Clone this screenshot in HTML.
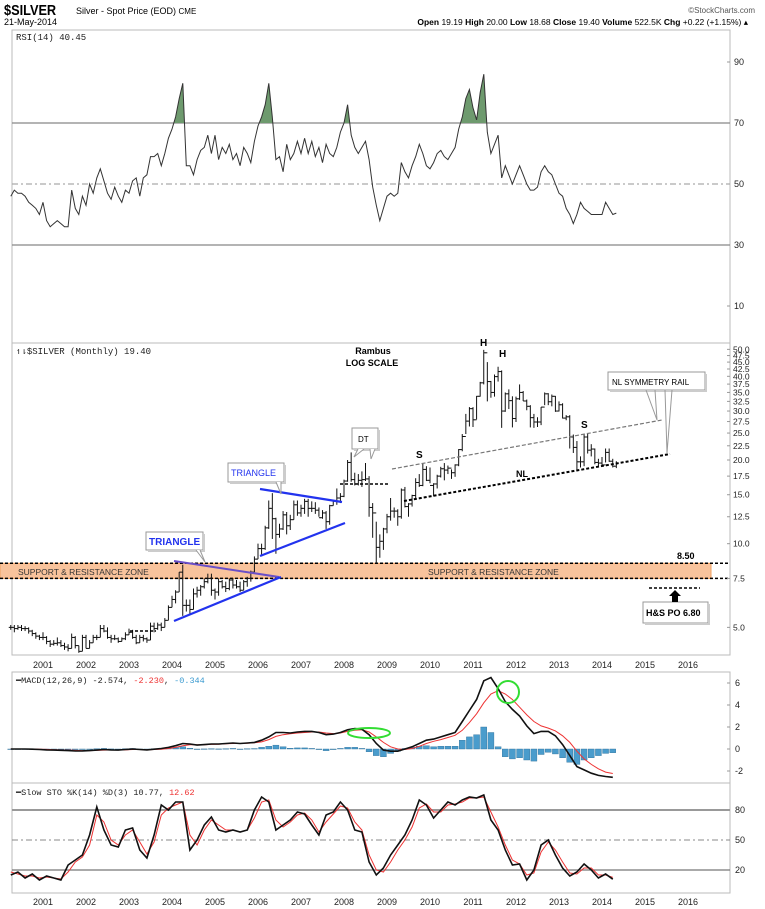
<!DOCTYPE html>
<html><head><meta charset="utf-8">
<style>
html,body{margin:0;padding:0;background:#fff;}
svg{display:block;font-family:"Liberation Sans",sans-serif;}
</style></head>
<body>
<svg id="c" width="765" height="909" viewBox="0 0 765 909" xmlns="http://www.w3.org/2000/svg">
<text x="4" y="15" font-size="15" font-weight="bold" transform="scale(0.85,1)" style="transform-origin:4px 15px">$SILVER</text>
<text x="76" y="14" font-size="9">Silver - Spot Price (EOD) <tspan font-size="8">CME</tspan></text>
<text x="755" y="13" font-size="8" fill="#555" text-anchor="end">©StockCharts.com</text>
<text x="4" y="25" font-size="9">21-May-2014</text>
<text x="748" y="25" font-size="8.5" text-anchor="end"><tspan font-weight="bold">Open</tspan> 19.19 <tspan font-weight="bold">High</tspan> 20.00 <tspan font-weight="bold">Low</tspan> 18.68 <tspan font-weight="bold">Close</tspan> 19.40 <tspan font-weight="bold">Volume</tspan> 522.5K <tspan font-weight="bold">Chg</tspan> +0.22 (+1.15%) ▴</text>
<g id="g"></g>
</svg>
<script>
const monthStart = 2000.25;
const priceHigh = [5.1,5.1,5.1,5.1,5.05,5.0,4.9,4.8,4.7,
4.8,4.65,4.5,4.5,4.6,4.5,4.4,4.35,4.75,4.65,4.3,4.7,
4.7,4.5,4.7,4.7,5.1,5.1,5.0,4.7,4.7,4.6,4.6,4.8,
4.95,4.9,4.7,4.7,4.7,4.6,5.2,5.2,5.2,5.2,5.4,6.0,
6.5,6.8,7.9,8.4,6.3,6.3,6.9,7.0,7.1,7.5,7.8,7.8,
6.9,7.5,7.4,7.3,7.5,7.5,7.4,7.3,7.4,7.6,8.0,9.0,
10.0,10.0,11.6,14.3,15.2,12.4,11.8,13.1,13.0,12.7,14.3,14.3,
13.8,14.5,14.5,14.2,14.1,13.5,13.2,13.1,13.8,14.4,15.8,15.2,
17.0,20.0,21.3,18.0,17.8,18.2,19.5,17.5,14.0,12.0,10.8,11.4,
12.8,14.6,13.5,13.3,15.8,16.0,14.0,15.0,17.2,17.8,19.4,19.0,
18.8,16.5,17.7,18.9,19.5,19.1,18.5,19.3,21.9,24.8,29.3,31.0,
31.0,34.0,38.2,49.8,45.0,38.5,40.6,43.3,42.0,35.0,35.9,33.9,
33.8,37.4,35.4,33.0,31.5,29.3,28.5,31.0,35.0,34.8,34.4,34.0,
32.5,32.0,29.0,29.0,24.7,23.4,20.6,24.8,25.0,22.8,22.0,20.2,
20.5,22.0,22.0,20.2,19.8];
const priceLow = [4.9,4.8,4.9,4.85,4.85,4.75,4.65,4.55,4.5,
4.5,4.35,4.25,4.3,4.3,4.25,4.15,4.1,4.2,4.2,4.05,4.1,
4.2,4.2,4.4,4.5,4.6,4.8,4.55,4.4,4.5,4.4,4.45,4.5,
4.7,4.55,4.35,4.4,4.45,4.4,4.5,4.8,4.9,4.85,5.0,5.3,
5.9,6.1,6.7,5.5,5.7,5.6,5.8,6.4,6.5,6.9,7.2,6.5,
6.3,6.5,6.9,6.7,6.8,6.9,6.9,6.7,6.8,7.0,7.3,7.9,
8.8,9.0,9.5,11.3,10.4,9.2,10.5,11.2,10.8,11.2,12.2,12.6,
12.5,12.8,12.5,13.0,12.8,12.5,12.3,11.3,11.7,13.7,13.8,14.0,
14.7,16.7,16.7,16.2,16.2,16.0,16.8,12.5,10.5,8.5,8.9,9.5,
10.9,12.1,12.4,11.6,12.3,13.5,12.5,13.6,14.6,16.0,16.1,16.8,
16.5,14.8,15.8,17.3,16.9,17.8,17.1,17.4,19.0,21.5,24.8,26.4,
26.3,28.0,33.8,37.4,32.5,33.5,33.8,38.3,26.1,29.8,30.5,26.2,
27.4,32.9,32.6,30.2,26.2,26.1,26.3,26.7,31.5,31.5,31.2,29.8,
29.9,28.2,27.8,22.0,21.2,18.2,18.8,19.0,21.1,20.6,19.3,19.0,
18.9,19.6,19.7,18.8,18.7];
const priceClose = [5.0,4.95,5.0,4.95,4.95,4.85,4.75,4.65,4.6,
4.6,4.45,4.35,4.38,4.4,4.3,4.25,4.2,4.6,4.3,4.1,4.6,
4.2,4.4,4.6,4.6,4.95,4.85,4.6,4.55,4.55,4.45,4.55,4.7,
4.8,4.6,4.4,4.6,4.55,4.5,5.05,4.95,5.1,5.0,5.3,5.9,
6.3,6.7,7.9,6.0,6.0,5.8,6.6,6.8,7.0,7.3,7.5,6.8,
6.7,7.3,7.0,6.9,7.4,7.1,7.0,6.8,7.3,7.5,7.9,8.8,
9.6,9.6,11.4,13.4,12.3,10.8,11.3,12.7,11.6,12.2,13.8,12.9,
13.4,14.2,13.4,13.4,13.2,12.4,12.9,12.0,13.7,14.2,14.6,14.8,
16.8,19.6,17.0,16.4,16.9,17.0,17.1,13.5,12.9,9.7,10.2,11.3,
12.5,13.1,13.1,12.5,15.6,13.6,13.9,14.9,16.6,16.2,18.5,16.9,
16.2,16.4,17.5,18.6,18.4,18.7,18.0,19.2,21.8,24.3,27.6,30.6,
27.9,33.9,37.9,48.6,38.3,35.0,39.9,41.6,30.0,34.6,32.7,28.2,
33.2,35.0,32.6,31.2,28.4,27.4,27.4,31.0,34.6,32.4,33.9,30.0,
31.6,28.3,28.6,24.2,22.2,19.7,19.7,24.2,21.7,21.9,19.6,19.5,
19.2,21.3,19.8,19.0,19.4];
const rsiValues = [46,48,47,47,46,44,43,42,40,
44,38,36,37,38,37,36,36,48,42,40,46,
43,50,47,52,55,51,47,45,49,46,44,48,
47,51,52,46,52,53,59,59,60,56,60,65,
68,72,78,83,56,56,53,58,61,62,66,60,
66,58,62,60,63,58,60,56,62,60,57,64,
69,72,76,83,72,58,59,54,63,58,60,64,
60,65,60,64,59,62,57,63,60,59,62,67,
70,76,66,62,60,62,64,58,49,43,38,42,
46,47,46,47,57,54,52,56,59,63,60,56,
55,57,60,61,59,58,60,62,68,72,78,81,
75,71,80,86,67,60,63,66,52,56,53,50,
53,56,53,50,48,48,49,54,56,54,53,50,
47,46,42,40,37,40,44,42,41,40,40,40,
40,44,42,40,40.45];
const rsiTicks = [90,70,50,30,10];
const priceTicks = [50.0,47.5,45.0,42.5,40.0,37.5,35.0,32.5,30.0,27.5,25.0,22.5,20.0,17.5,15.0,12.5,10.0,7.5,5.0];
const yearLabels = [2001,2002,2003,2004,2005,2006,2007,2008,2009,2010,2011,2012,2013,2014,2015,2016];
const biStart = 2000.25;
const macdLine = [0.0,0.0,0.0,-0.02,-0.05,
-0.08,-0.1,-0.12,-0.15,-0.18,-0.17,
-0.15,-0.1,-0.05,-0.08,-0.1,-0.05,
0.0,-0.05,-0.08,-0.02,0.05,0.15,
0.3,0.5,0.45,0.35,0.4,0.45,
0.45,0.5,0.55,0.5,0.55,0.6,
0.8,1.1,1.5,1.5,1.45,1.55,
1.6,1.6,1.5,1.3,1.35,1.5,
1.75,1.85,1.8,1.3,0.5,-0.1,
-0.2,-0.2,0.0,0.2,0.5,0.8,
0.9,1.1,1.3,1.5,2.5,3.5,
4.5,6.2,6.5,5.5,4.3,3.6,
3.0,2.1,1.4,1.6,1.6,1.2,
0.4,-0.6,-1.6,-1.9,-2.2,-2.4,
-2.5,-2.57];
const macdSignal = [0.0,0.0,0.0,0.0,-0.02,
-0.04,-0.06,-0.08,-0.1,-0.13,-0.15,
-0.15,-0.13,-0.1,-0.09,-0.09,-0.08,
-0.05,-0.05,-0.06,-0.05,-0.02,0.05,
0.15,0.3,0.38,0.38,0.39,0.42,
0.44,0.47,0.5,0.5,0.52,0.56,
0.65,0.85,1.15,1.3,1.38,1.45,
1.5,1.55,1.55,1.45,1.4,1.45,
1.6,1.7,1.75,1.55,1.1,0.6,
0.2,0.0,-0.05,0.05,0.25,0.5,
0.7,0.85,1.05,1.25,1.7,2.4,
3.2,4.2,5.0,5.3,5.0,4.5,
3.8,3.1,2.5,2.1,1.9,1.65,
1.2,0.6,-0.2,-0.9,-1.4,-1.8,
-2.1,-2.23];
const macdTicks = [6,4,2,0,-2];
const stoK = [15,18,12,16,10,
14,12,10,25,30,35,
55,83,60,45,43,60,
62,40,32,55,85,80,
88,88,40,50,65,73,
60,58,60,58,60,80,
93,88,60,65,70,78,
76,65,55,75,78,88,
80,60,58,28,15,22,
35,45,55,70,90,85,
72,80,88,85,90,93,
92,95,70,60,40,25,
26,10,20,45,50,35,
22,14,18,26,20,12,
16,10.77];
const stoD = [18,16,14,14,12,
13,12,11,18,28,33,
45,75,68,50,45,55,
60,48,36,48,75,82,
85,88,55,45,60,70,
65,60,60,58,60,72,
88,90,70,63,68,75,
77,70,58,68,76,84,
82,68,60,35,20,18,
28,40,50,63,82,86,
78,78,85,86,88,92,
92,93,78,63,45,30,
26,15,17,38,48,40,
28,17,16,22,22,15,
15,12.62];
const stoTicks = [80,50,20];

const NS='http://www.w3.org/2000/svg';
const G=document.getElementById('g');
function el(tag,attrs,parent,txt){const e=document.createElementNS(NS,tag);for(const k in attrs)e.setAttribute(k,attrs[k]);if(txt!==undefined)e.textContent=txt;(parent||G).appendChild(e);return e;}
const L=12,R=730;
function xT(t){return 43+(t-2001)*43;}
function xM(i){return xT(monthStart+i/12);}
function xB(i){return xT(biStart+i/6);}
function yRsi(v){return 62+(90-v)*3.05;}
function yP(v){return 460-278*Math.log10(v/20);}
function yMacd(v){return 749-11*v;}
function ySto(v){return 870-(v-20);}

// panel frames
const panels=[[30,343,'rsi-panel'],[343,655,'price-panel'],[672,783,'macd-panel'],[783,893,'stochastic-panel']];
panels.forEach(p=>{const r=el('rect',{x:L,y:p[0],width:R-L,height:p[1]-p[0],fill:'none',stroke:'#bbb','stroke-width':1});

});

// year axes
[664,901].forEach((yy,k)=>{yearLabels.forEach(yr=>{const t=el('text',{x:xT(yr),y:yy+4,'font-size':9,'text-anchor':'middle',fill:'#222'},G,String(yr));

});});

// RSI
rsiTicks.forEach(v=>{const t=el('text',{x:734,y:yRsi(v)+3,'font-size':9,fill:'#222'},G,String(v));


el('line',{x1:R-3,x2:R,y1:yRsi(v),y2:yRsi(v),stroke:'#999'});});
[[70,'#888',''],[30,'#888',''],[50,'#aaa','6,3,2,3']].forEach(g=>{const ln=el('line',{x1:L,x2:R,y1:yRsi(g[0]),y2:yRsi(g[0]),stroke:g[1],'stroke-width':1.2,'stroke-dasharray':g[2]});

});
const defs=el('defs',{});
const cp=el('clipPath',{id:'above70'},defs);el('rect',{x:L,y:30,width:R-L,height:yRsi(70)-30},cp);
let ap='M'+xM(0)+','+yRsi(70);rsiValues.forEach((v,i)=>ap+=' L'+xM(i).toFixed(1)+','+yRsi(v).toFixed(1));ap+=' L'+xM(rsiValues.length-1)+','+yRsi(70)+'Z';
const af=el('path',{d:ap,fill:'#6e9a6e','clip-path':'url(#above70)'});


const rl=el('path',{d:rsiValues.map((v,i)=>(i?'L':'M')+xM(i).toFixed(1)+','+yRsi(v).toFixed(1)).join(' '),fill:'none',stroke:'#333','stroke-width':1});


const rt=el('text',{x:16,y:40,'font-size':9,fill:'#222','font-family':'Liberation Mono, monospace'},G,'RSI(14) 40.45');



// price zone
const zone=el('rect',{x:0,y:yP(8.5),width:711,height:yP(7.5)-yP(8.5),fill:'#f8c39c',stroke:'#f0a060'});


[8.5,7.5].forEach(v=>{const d=el('line',{x1:0,x2:R,y1:yP(v),y2:yP(v),stroke:'#000','stroke-width':1.5,'stroke-dasharray':'3,2'});

});
[[18,'support-zone-label-left'],[428,'support-zone-label-right']].forEach(a=>{const t=el('text',{x:a[0],y:575,'font-size':8.5,fill:'#333'},G,'SUPPORT & RESISTANCE ZONE');

});
const l85=el('text',{x:677,y:559,'font-size':9,'font-weight':'bold'},G,'8.50');



// price ticks
priceTicks.forEach(v=>{const t=el('text',{x:733,y:yP(v)+3,'font-size':8.5,fill:'#222'},G,v.toFixed(1));


el('line',{x1:R-3,x2:R,y1:yP(v),y2:yP(v),stroke:'#999'});});

// price bars
priceClose.forEach((c,i)=>{const x=xM(i);const g=el('g',{stroke:'#111','stroke-width':1});


el('line',{x1:x,x2:x,y1:yP(priceHigh[i]),y2:yP(priceLow[i])},g);
const o=i?priceClose[i-1]:c;
el('line',{x1:x-2,x2:x,y1:yP(o),y2:yP(o)},g);
el('line',{x1:x,x2:x+2,y1:yP(c),y2:yP(c)},g);});

// annotations
function line(x1,y1,x2,y2,st,w,da,name){const l=el('line',{x1,y1,x2,y2,stroke:st,'stroke-width':w,'stroke-dasharray':da||''});

}
line(174,561,279,577,'#6a4fc8',2,'','triangle1-upper-line');
line(174,621,281,577,'#2233ee',2.2,'','triangle1-lower-line');
line(260,489,342,502,'#2233ee',2.2,'','triangle2-upper-line');
line(260,556,345,523,'#2233ee',2.2,'','triangle2-lower-line');
line(130,631,156,631,'#000',1.5,'3,2','2003-bottom-line');
line(340,484,390,484,'#000',1.5,'3,2','2008-top-line');
line(404,501,670,454,'#000',2,'3,2','neckline');
line(392,469,662,420,'#777',1.2,'4,2','nl-symmetry-rail');
line(649,588,700,588,'#000',1.5,'3,2','target-line');
function box(x,y,w,h,name){const b=el('rect',{x,y,width:w,height:h,fill:'#fff',stroke:'#999','stroke-width':1});


el('rect',{x:x+w,y:y+2,width:2,height:h,fill:'#ccc'});el('rect',{x:x+2,y:y+h,width:w,height:2,fill:'#ccc'});}
box(146,532,57,18,'triangle1-callout');
el('polyline',{points:'196,550 205,562 200,550',fill:'#fff',stroke:'#999'});
box(228,463,56,19,'triangle2-callout');
el('polyline',{points:'276,482 281,494 281,482',fill:'#fff',stroke:'#999'});
box(352,428,26,21,'dt-callout');
el('polyline',{points:'358,449 354,457 364,449',fill:'#fff',stroke:'#999'});
el('polyline',{points:'370,449 371,459 375,449',fill:'#fff',stroke:'#999'});
box(608,372,97,18,'nl-symmetry-callout');
el('polyline',{points:'646,390 657,420 655,390',fill:'none',stroke:'#999'});
el('polyline',{points:'665,390 667,453 672,390',fill:'none',stroke:'#999'});
box(643,602,65,21,'hs-target-callout');
const arr=el('polygon',{points:'675,590 681,596 678,596 678,602 672,602 672,596 669,596',fill:'#000'});


function txt(x,y,s,t,attrs,name){const e=el('text',Object.assign({x,y,'font-size':s},attrs||{}),G,t);

}
txt(149,545,10,'TRIANGLE',{fill:'#2233ee','font-weight':'bold'},'triangle1-label');
txt(231,476,9,'TRIANGLE',{fill:'#2233ee'},'triangle2-label');
txt(358,442,8,'DT',{},'dt-label');
txt(612,385,8,'NL SYMMETRY RAIL',{},'nl-symmetry-label');
txt(646,616,9,'H&S PO 6.80',{'font-weight':'bold'},'hs-target-label');
txt(373,354,9,'Rambus',{'font-weight':'bold','text-anchor':'middle'},'rambus-label');
txt(372,366,9,'LOG SCALE',{'font-weight':'bold','text-anchor':'middle'},'log-scale-label');
txt(416,458,10,'S',{'font-weight':'bold'},'left-shoulder-label');
txt(480,346,10,'H',{'font-weight':'bold'},'head1-label');
txt(499,357,10,'H',{'font-weight':'bold'},'head2-label');
txt(581,428,10,'S',{'font-weight':'bold'},'right-shoulder-label');
txt(516,477,9,'NL',{'font-weight':'bold'},'neckline-label');
txt(16,354,9,'↿⇂$SILVER (Monthly) 19.40',{fill:'#222','font-family':'Liberation Mono, monospace'},'price-legend');

// MACD
macdTicks.forEach(v=>{const t=el('text',{x:735,y:yMacd(v)+3,'font-size':9,fill:'#222'},G,String(v));


el('line',{x1:R-3,x2:R,y1:yMacd(v),y2:yMacd(v),stroke:'#999'});});
macdLine.forEach((m,i)=>{const h=m-macdSignal[i];const y0=yMacd(0),y1=yMacd(h);
const b=el('rect',{x:xB(i)-3,y:Math.min(y0,y1),width:6,height:Math.max(0.5,Math.abs(y1-y0)),fill:'#4a9ccc',stroke:'#2c6f99','stroke-width':0.4});

});
function pl(arr,fy,st,w,name){const p=el('path',{d:arr.map((v,i)=>(i?'L':'M')+xB(i).toFixed(1)+','+fy(v).toFixed(1)).join(' '),fill:'none',stroke:st,'stroke-width':w});

}
pl(macdSignal,yMacd,'#e33',1,'macd-signal-line');
pl(macdLine,yMacd,'#111',1.6,'macd-line');
const e1=el('ellipse',{cx:369,cy:763-30,rx:21,ry:5,fill:'none',stroke:'#3d3','stroke-width':2});


const e2=el('ellipse',{cx:508,cy:692,rx:11,ry:11,fill:'none',stroke:'#3d3','stroke-width':2});


const mt=el('text',{x:16,y:683,'font-size':8.5,'font-family':'Liberation Mono, monospace',fill:'#222'},G);


mt.innerHTML='<tspan font-weight="bold">━</tspan>MACD(12,26,9) -2.574, <tspan fill="#e33">-2.230</tspan>, <tspan fill="#3a9ad0">-0.344</tspan>';

// Stochastic
stoTicks.forEach(v=>{const t=el('text',{x:735,y:ySto(v)+3,'font-size':9,fill:'#222'},G,String(v));

});
[[80,'#999',2,''],[20,'#777',1.2,''],[50,'#888',1,'6,3,2,3']].forEach(g=>{const ln=el('line',{x1:L,x2:R,y1:ySto(g[0]),y2:ySto(g[0]),stroke:g[1],'stroke-width':g[2],'stroke-dasharray':g[3]});

});
pl(stoD,ySto,'#e33',1,'sto-d-line');
pl(stoK,ySto,'#111',1.6,'sto-k-line');
const st=el('text',{x:16,y:795,'font-size':8.5,'font-family':'Liberation Mono, monospace',fill:'#222'},G);


st.innerHTML='<tspan font-weight="bold">━</tspan>Slow STO %K(14) %D(3) 10.77, <tspan fill="#e33">12.62</tspan>';
</script>
</body></html>
